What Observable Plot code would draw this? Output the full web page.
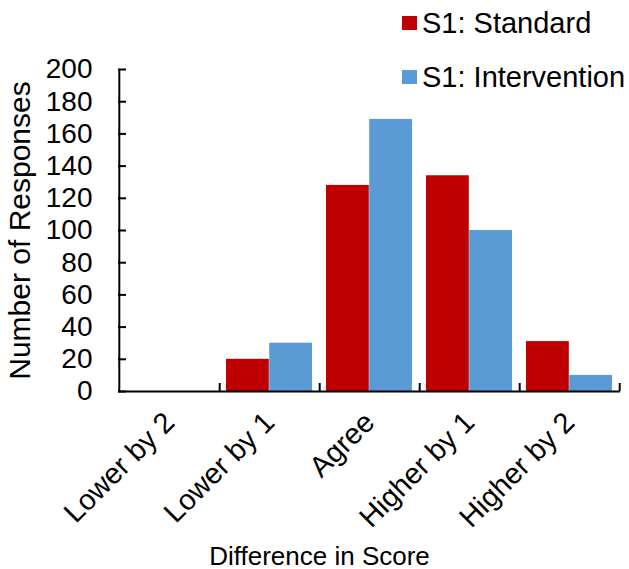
<!DOCTYPE html>
<html>
<head>
<meta charset="utf-8">
<script src="https://cdn.jsdelivr.net/npm/d3@7"></script>
<script src="https://cdn.jsdelivr.net/npm/@observablehq/plot@0.6"></script>
<style>
  html, body { margin: 0; padding: 0; background: white; }
  #wrap { position: relative; width: 629px; height: 569px; font-family: "Liberation Sans", Arial, sans-serif; }
  #legend { position: absolute; left: 402px; top: -4px; font-size: 29px; color: black; }
  .item { display: flex; align-items: center; height: 54px; }
  .sw { width: 15px; height: 14px; margin-right: 5px; }
</style>
</head>
<body>
<div id="wrap">
  <div id="chart"></div>
  <div id="legend"></div>
</div>
<script>
const categories = ["Lower by 2", "Lower by 1", "Agree", "Higher by 1", "Higher by 2"];
const standard = [0, 20, 128, 134, 31];
const intervention = [0, 30, 169, 100, 10];
const seriesNames = ["S1: Standard", "S1: Intervention"];
const seriesColors = ["#C00000", "#5B9BD5"];
const yTicks = [0, 20, 40, 60, 80, 100, 120, 140, 160, 180, 200];
const xTitle = "Difference in Score";
const yTitle = "Number of Responses";

const W = 629, H = 569, mL = 118, mR = 9, mT = 69, mB = 178;
const bw = (W - mL - mR) / categories.length;
const outer = 7;
const barW = (bw - 2 * outer) / 2;

const stdRows = categories.map((c, i) => ({category: c, value: standard[i]}));
const intRows = categories.map((c, i) => ({category: c, value: intervention[i]}));

const chart = Plot.plot({
  width: W, height: H,
  marginLeft: mL, marginRight: mR, marginTop: mT, marginBottom: mB,
  style: {fontFamily: '"Liberation Sans", Arial, sans-serif', fontSize: "28px", color: "black", background: "white", overflow: "visible"},
  x: {domain: categories, padding: 0, axis: null},
  y: {domain: [0, 200], axis: null},
  marks: [
    Plot.barY(stdRows, {x: "category", y: "value", fill: seriesColors[0], insetLeft: outer, insetRight: outer + barW}),
    Plot.barY(intRows, {x: "category", y: "value", fill: seriesColors[1], insetLeft: outer + barW, insetRight: outer}),
    Plot.axisY(yTicks, {tickSize: -8, tickFormat: () => "", label: null, strokeWidth: 2}),
    Plot.axisY(yTicks, {tickSize: 0, tickPadding: 26, fontSize: 28, label: null}),
    Plot.axisX(categories, {tickSize: -8, tickFormat: () => "", label: null, dx: bw / 2, strokeWidth: 2}),
    Plot.axisX(categories, {tickSize: 0, tickPadding: 26, dx: 0, tickRotate: -45, fontSize: 29, label: null}),
    Plot.ruleY([0], {stroke: "black", strokeWidth: 2}),
    Plot.ruleX([categories[0]], {dx: -bw / 2, y1: 0, y2: 200, stroke: "black", strokeWidth: 2}),
    Plot.text([xTitle], {text: d => d, frameAnchor: "bottom", dy: 173, dx: -50, fontSize: 26, lineAnchor: "bottom"}),
    Plot.text([yTitle], {text: d => d, frameAnchor: "left", textAnchor: "middle", rotate: -90, dx: -98, fontSize: 30})
  ]
});
document.getElementById("chart").appendChild(chart);

const legend = document.getElementById("legend");
seriesNames.forEach((name, i) => {
  const item = document.createElement("div");
  item.className = "item";
  const sw = document.createElement("span");
  sw.className = "sw";
  sw.style.background = seriesColors[i];
  const label = document.createElement("span");
  label.textContent = name;
  item.appendChild(sw);
  item.appendChild(label);
  legend.appendChild(item);
});
</script>
</body>
</html>
